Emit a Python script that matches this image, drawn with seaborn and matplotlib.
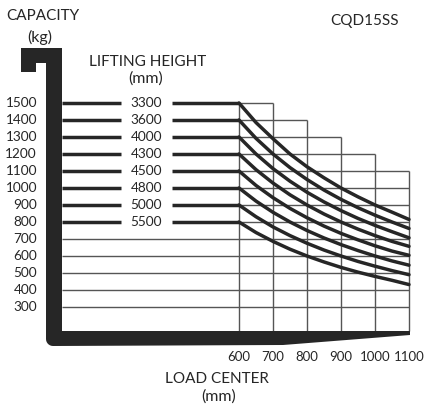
import matplotlib
matplotlib.use("Agg")
import matplotlib.pyplot as plt
import numpy as np
import pandas as pd
import seaborn as sns
from matplotlib.patches import Polygon

sns.set_theme(style="white")
plt.rcParams["font.family"] = ["Lato", "DejaVu Sans"]

# data
lifting_heights = [3300, 3600, 4000, 4300, 4500, 4800, 5000, 5500]
load_centers = [600, 650, 700, 750, 800, 850, 900, 950, 1000, 1050, 1100]
capacities = [
    [1500, 1385, 1290, 1200, 1125, 1060, 1000, 948, 900, 858, 815],
    [1400, 1292, 1200, 1120, 1050, 988, 933, 884, 840, 800, 762],
    [1300, 1200, 1114, 1040, 975, 918, 867, 821, 780, 743, 707],
    [1200, 1108, 1029, 960, 900, 847, 800, 758, 720, 686, 657],
    [1100, 1015, 943, 880, 825, 776, 733, 695, 660, 629, 604],
    [1000, 923, 857, 800, 750, 706, 667, 632, 600, 571, 546],
    [900, 831, 771, 720, 675, 635, 600, 568, 540, 514, 490],
    [800, 738, 686, 640, 600, 565, 533, 505, 480, 457, 432],
]
y_ticks = [1500, 1400, 1300, 1200, 1100, 1000, 900, 800, 700, 600, 500, 400, 300]
x_ticks = [600, 700, 800, 900, 1000, 1100]
model = "CQD15SS"

INK = "#262626"
GRID = "#555555"


# pixel -> data helpers (axes fills the whole 425x405 figure)
def px(x):
    return 600 + (x - 239) / 0.34


def py(y):
    return 1500 - (y - 103) / 0.17


fig = plt.figure(figsize=(4.25, 4.05), dpi=100)
ax = fig.add_axes([0, 0, 1, 1])
ax.set_xlim(px(0), px(425))
ax.set_ylim(py(405), py(0))
ax.axis("off")

x_left = px(62)
y_bottom = py(331)
x_max = x_ticks[-1]

# thin grid: rows below the rated lines run full width
for c in y_ticks:
    if c < 800:
        ax.hlines(c, x_left, x_max, color=GRID, lw=1.0, zorder=1)
    else:
        end = min(x_max, 700 + (1500 - c))
        ax.hlines(c, 600, end, color=GRID, lw=1.0, zorder=1)
for k, lc in enumerate(x_ticks):
    top = 1500 if k == 0 else 1500 - 100 * (k - 1)
    ax.vlines(lc, y_bottom, top, color=GRID, lw=1.0, zorder=1)

# rated capacity lines with lifting height labels
for h, row in zip(lifting_heights, capacities):
    c0 = row[0]
    ax.hlines(c0, x_left, px(121), color=INK, lw=2.5, zorder=3)
    ax.hlines(c0, px(172), 600, color=INK, lw=2.5, zorder=3)
    ax.text(px(146.5), c0, str(h), ha="center", va="center",
            fontsize=9.8, color=INK)

# derating curves
df = pd.DataFrame(
    [(h, lc, c) for h, row in zip(lifting_heights, capacities)
     for lc, c in zip(load_centers, row)],
    columns=["height", "center", "capacity"],
)
sns.lineplot(data=df, x="center", y="capacity", units="height",
             estimator=None, color=INK, lw=2.5, ax=ax, zorder=3)

# frame (fork shape)
t = np.linspace(np.pi, 1.5 * np.pi, 8)
r = 7
corner = [(46 + r + r * np.cos(a), 346 - r - r * np.sin(a)) for a in t]
outline = ([(21, 48), (62, 48), (62, 331), (410, 331), (410, 335),
            (283, 345)] + corner[::-1] + [(46, 63), (36, 63), (36, 72), (21, 72)])
ax.add_patch(Polygon([(px(a), py(b)) for a, b in outline], closed=True,
                     facecolor=INK, edgecolor="none", zorder=4))

# tick labels
for c in y_ticks:
    ax.text(px(37), c, str(c), ha="right", va="center", fontsize=9.8,
            color=INK)
for lc in x_ticks:
    ax.text(lc, py(357), str(lc), ha="center", va="center", fontsize=9.5,
            color=INK)

ax.text(px(43), py(16), "CAPACITY", ha="center", va="center", fontsize=11,
        color=INK)
ax.text(px(40), py(37), "(kg)", ha="center", va="center", fontsize=11.5,
        color=INK)
ax.text(px(148), py(62), "LIFTING HEIGHT", ha="center", va="center",
        fontsize=11, color=INK)
ax.text(px(146), py(79), "(mm)", ha="center", va="center", fontsize=11.5,
        color=INK)
ax.text(px(217), py(379), "LOAD CENTER", ha="center", va="center",
        fontsize=11, color=INK)
ax.text(px(219), py(397), "(mm)", ha="center", va="center", fontsize=11.5,
        color=INK)
ax.text(px(365), py(21), model, ha="center", va="center", fontsize=11,
        color=INK)

fig.savefig("out.png", dpi=100)
